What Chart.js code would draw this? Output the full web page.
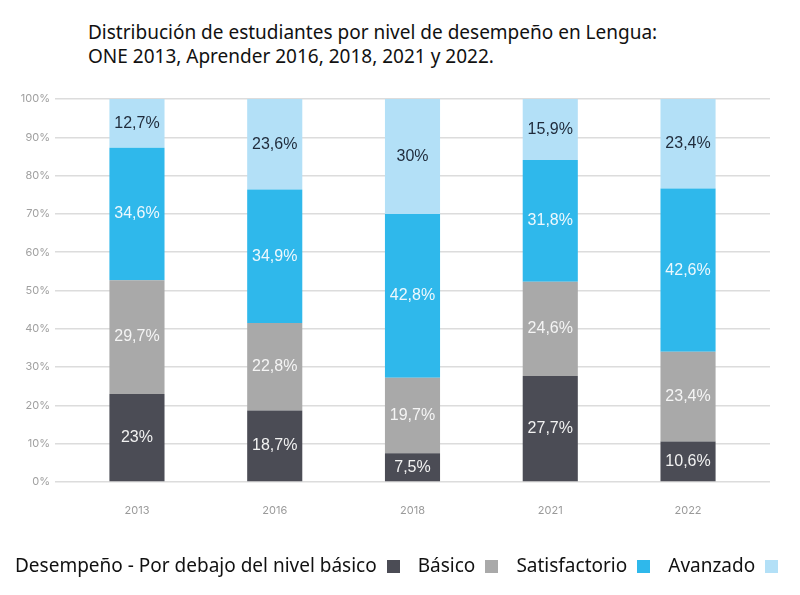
<!DOCTYPE html>
<html>
<head>
<meta charset="utf-8">
<script src="https://cdn.jsdelivr.net/npm/chart.js@4"></script>
<style>
  body { margin: 0; width: 800px; height: 595px; background: #fff; position: relative; overflow: hidden; }
  #title { position: absolute; left: 88px; top: 20px; font-family: "Noto Sans", sans-serif; font-size: 19px; line-height: 24px; color: #111; }
  #wrap { position: absolute; left: 0; top: 0; width: 800px; height: 595px; }
  #legend { position: absolute; left: 15px; top: 552px; font-family: "Noto Sans", sans-serif; font-size: 19px; color: #111; white-space: nowrap; }
  #legend span.sw { display: inline-block; width: 13px; height: 13px; margin: 0 18px 0 10px; vertical-align: -1px; }
</style>
</head>
<body>
<div id="title">Distribución de estudiantes por nivel de desempeño en Lengua:<br>ONE 2013, Aprender 2016, 2018, 2021 y 2022.</div>
<div id="wrap"><canvas id="chart"></canvas></div>
<div id="legend"></div>
<script>
const years = ["2013", "2016", "2018", "2021", "2022"];
const seriesNames = ["Por debajo del nivel básico", "Básico", "Satisfactorio", "Avanzado"];
const debajo = [23, 18.7, 7.5, 27.7, 10.6];
const basico = [29.7, 22.8, 19.7, 24.6, 23.4];
const satisfactorio = [34.6, 34.9, 42.8, 31.8, 42.6];
const avanzado = [12.7, 23.6, 30, 15.9, 23.4];
const yTicks = [0, 10, 20, 30, 40, 50, 60, 70, 80, 90, 100];

const colors = ["#4b4c55", "#a9a9a9", "#2fb8eb", "#b3e0f7"];
const labelColors = ["#f2f2f2", "#f5f5f5", "#eef8fd", "#1f2a3a"];

// legend: texto primero, cuadrado despues
const legend = document.getElementById("legend");
legend.innerHTML = "Desempeño - " + seriesNames.map((n, i) =>
  n + '<span class="sw" style="background:' + colors[i] + '"></span>').join("");

const valueLabels = {
  id: "valueLabels",
  afterDatasetsDraw(chart) {
    const ctx = chart.ctx;
    ctx.save();
    ctx.font = '16px "Liberation Sans", Arial, sans-serif';
    ctx.textAlign = "center";
    ctx.textBaseline = "middle";
    chart.data.datasets.forEach((ds, i) => {
      chart.getDatasetMeta(i).data.forEach((bar, j) => {
        const v = ds.data[j];
        ctx.fillStyle = labelColors[i];
        ctx.fillText(String(v).replace(".", ",") + "%", bar.x, (bar.y + bar.base) / 2);
      });
    });
    ctx.restore();
  }
};

const data = [debajo, basico, satisfactorio, avanzado];
new Chart(document.getElementById("chart"), {
  type: "bar",
  data: {
    labels: years,
    datasets: seriesNames.map((n, i) => ({
      label: n,
      data: data[i],
      backgroundColor: colors[i],
      borderWidth: 0,
      barPercentage: 0.4,
      categoryPercentage: 1
    }))
  },
  options: {
    responsive: true,
    maintainAspectRatio: false,
    animation: false,
    layout: { padding: { left: 0, right: 30, top: 99, bottom: 73 } },
    plugins: { legend: { display: false }, tooltip: { enabled: false } },
    scales: {
      x: {
        stacked: true,
        grid: { display: false, drawTicks: false },
        border: { display: false },
        ticks: { color: "#9a9a9a", padding: 22, font: { family: "Inter", size: 11 } },
        afterFit: s => { s.height = 40; },
        afterUpdate: s => {
          // un poco mas de margen a los lados de las barras
          s._startValue = -0.595;
          s._valueRange = 5.19;
        }
      },
      y: {
        stacked: true,
        min: 0,
        max: 100,
        afterBuildTicks: s => { s.ticks = yTicks.map(v => ({ value: v })); },
        grid: { color: "#dcdcdc", lineWidth: 1.5, drawTicks: false },
        border: { display: false },
        ticks: {
          color: "#a0a0a0",
          padding: 5,
          font: { family: "Inter", size: 11 },
          callback: v => v + "%"
        },
        afterFit: s => { s.width = 55; }
      }
    }
  },
  plugins: [valueLabels]
});
</script>
</body>
</html>
